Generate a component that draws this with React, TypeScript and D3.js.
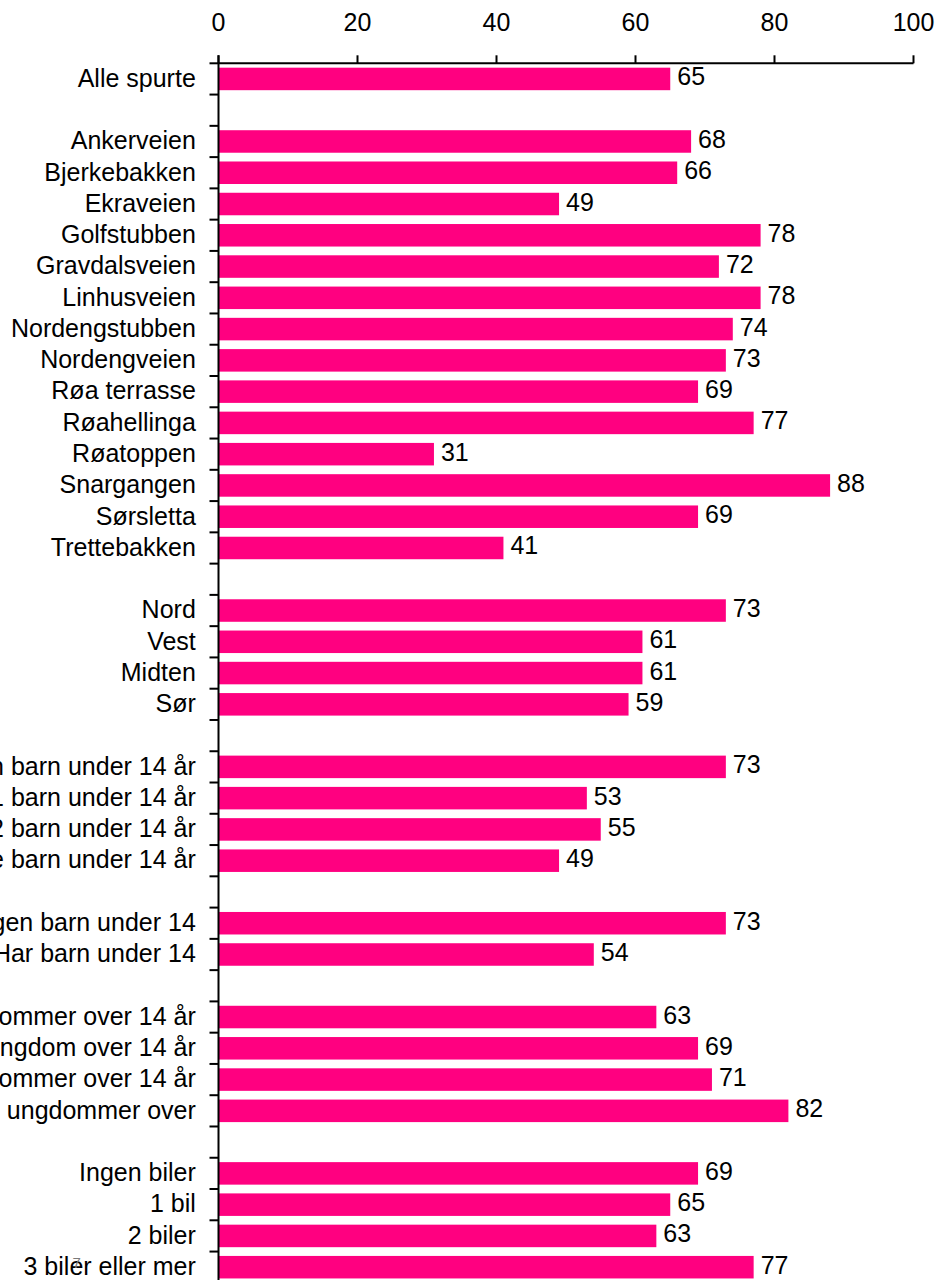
import React from "react";
import * as d3 from "d3";

const categories: string[] = [
  "Alle spurte",
  "",
  "Ankerveien",
  "Bjerkebakken",
  "Ekraveien",
  "Golfstubben",
  "Gravdalsveien",
  "Linhusveien",
  "Nordengstubben",
  "Nordengveien",
  "Røa terrasse",
  "Røahellinga",
  "Røatoppen",
  "Snargangen",
  "Sørsletta",
  "Trettebakken",
  "",
  "Nord",
  "Vest",
  "Midten",
  "Sør",
  "",
  "Ingen barn under 14 år",
  "1 barn under 14 år",
  "2 barn under 14 år",
  "3 eller flere barn under 14 år",
  "",
  "Ingen barn under 14",
  "Har barn under 14",
  "",
  "Ingen ungdommer over 14 år",
  "1 ungdom over 14 år",
  "2 ungdommer over 14 år",
  "3 eller flere ungdommer over",
  "",
  "Ingen biler",
  "1 bil",
  "2 biler",
  "3 biler eller mer",
];

const values: (number | null)[] = [
  65, null,
  68, 66, 49, 78, 72, 78, 74, 73, 69, 77, 31, 88, 69, 41, null,
  73, 61, 61, 59, null,
  73, 53, 55, 49, null,
  73, 54, null,
  63, 69, 71, 82, null,
  69, 65, 63, 77,
];

const xTicks: number[] = [0, 20, 40, 60, 80, 100];

const W = 938;
const H = 1280;
const X0 = 218.5;
const X1 = 913.5;
const Y0 = 63.3;
const ROW = 31.27;
const FONT = "'Liberation Sans', Arial, sans-serif";
const PINK = "#FF0080";

export default function App() {
  const idx = categories.map((_, i) => String(i));
  const x = d3.scaleLinear().domain([0, 100]).range([X0, X1]);
  const y = d3
    .scaleBand<string>()
    .domain(idx)
    .range([Y0, Y0 + ROW * categories.length])
    .paddingInner(0.28)
    .paddingOuter(0.14);
  const step = y.step();
  const rowTop = (i: number) => Y0 + i * step;

  return (
    <div style={{ position: "absolute", left: 0, top: 0, width: W, height: H, overflow: "hidden", background: "#fff" }}>
      <svg width={W} height={H} style={{ display: "block" }} fontFamily={FONT}>
        {/* bars */}
        {values.map((v, i) =>
          v == null ? null : (
            <rect
              key={"b" + i}
              x={x(0)}
              y={y(String(i))}
              width={x(v) - x(0)}
              height={y.bandwidth()}
              fill={PINK}
            />
          )
        )}
        {/* value labels */}
        {values.map((v, i) =>
          v == null ? null : (
            <text
              key={"v" + i}
              x={x(v) + 7}
              y={(y(String(i)) as number) + y.bandwidth() / 2 + 6.5}
              fontSize={25}
              fill="#000"
            >
              {v}
            </text>
          )
        )}
        {/* category labels */}
        {categories.map((c, i) =>
          c === "" ? null : (
            <text
              key={"c" + i}
              x={195.8}
              y={rowTop(i) + step / 2 + 7.8}
              fontSize={25}
              textAnchor="end"
              fill="#000"
            >
              {c}
            </text>
          )
        )}
        {/* top axis */}
        <line x1={x(0)} x2={x(100)} y1={Y0} y2={Y0} stroke="#000" strokeWidth={2} />
        {xTicks.map((t) => (
          <g key={"t" + t}>
            <line x1={x(t)} x2={x(t)} y1={Y0} y2={Y0 - 8} stroke="#000" strokeWidth={2} />
            <text x={x(t)} y={30.7} fontSize={25} textAnchor="middle" fill="#000">
              {t}
            </text>
          </g>
        ))}
        {/* left axis */}
        <line x1={X0} x2={X0} y1={Y0 - 8} y2={H + 5} stroke="#000" strokeWidth={2} />
        {categories.map((_, i) => (
          <line key={"lt" + i} x1={X0 - 9} x2={X0} y1={rowTop(i)} y2={rowTop(i)} stroke="#000" strokeWidth={2} />
        ))}
        {/* page number watermark */}
        <text x={72.5} y={1268} fontSize={15} fill="#7a7a7a">
          7
        </text>
      </svg>
    </div>
  );
}
